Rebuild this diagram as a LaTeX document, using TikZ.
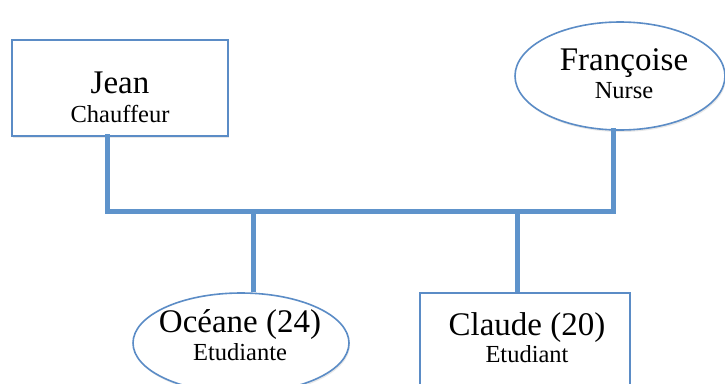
\documentclass[tikz,border=0pt]{standalone}
\usepackage{fontspec}
\setmainfont{Liberation Serif}
\usetikzlibrary{shapes.geometric,shadows}
\definecolor{famblue}{HTML}{5E93CB}
\definecolor{edgeblue}{HTML}{5B8CC6}
\tikzset{
  person/.style={draw=edgeblue, line width=1.6pt, fill=white,
    drop shadow={shadow xshift=1pt, shadow yshift=-2pt, opacity=0.18}},
  boxperson/.style={person, rectangle, inner sep=0pt},
  ovalperson/.style={person, ellipse, inner sep=0pt},
  pname/.style={anchor=base, inner sep=0pt, font=\fontsize{33}{33}\selectfont},
  pjob/.style={anchor=base, inner sep=0pt, font=\fontsize{24.5}{24.5}\selectfont},
  link/.style={draw=famblue, line width=5pt}
}
\begin{document}
\begin{tikzpicture}[x=1pt,y=-1pt]
\useasboundingbox (0,0) rectangle (725,383);
\clip (0,0) rectangle (725,383);
% family members
\node[boxperson, minimum width=216pt, minimum height=96pt] (jean) at (120,88) {};
\node[ovalperson, minimum width=210pt, minimum height=108pt] (francoise) at (620,76) {};
\node[ovalperson, minimum width=216pt, minimum height=100pt] (oceane) at (241,343) {};
\node[boxperson, minimum width=210pt, minimum height=100pt] (claude) at (525,343) {};
% connectors
\coordinate (barL) at (107,211);
\coordinate (barR) at (613,211);
\coordinate (kidA) at (253,211);
\coordinate (kidB) at (517,211);
\draw[link, line cap=rect] ([xshift=-13pt]jean.south) -- (barL) -- (barR) -- ([xshift=-7pt]francoise.south);
\draw[link] (kidA) -- (kidA |- oceane.north);
\draw[link] (kidB) -- (kidB |- claude.north);
% labels
\node[pname] (jeanN) at (120,93) {Jean};
\node[pjob] (jeanJ) at (120,122) {Chauffeur};
\node[pname] (francoiseN) at (624,70) {Françoise};
\node[pjob] (francoiseJ) at (624,98) {Nurse};
\node[pname] (oceaneN) at (240,332) {Océane (24)};
\node[pjob] (oceaneJ) at (240,360) {Etudiante};
\node[pname] (claudeN) at (527,335) {Claude (20)};
\node[pjob] (claudeJ) at (527,362) {Etudiant};
\end{tikzpicture}
\end{document}
